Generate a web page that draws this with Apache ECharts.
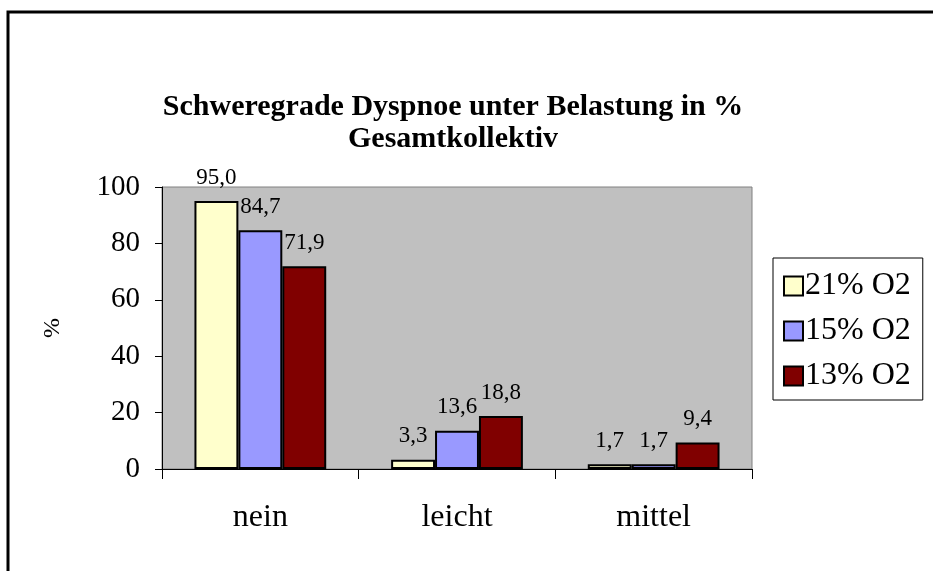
<!DOCTYPE html>
<html lang="de">

<head>
    <meta charset="UTF-8">
    <script src="https://cdn.jsdelivr.net/npm/echarts@6/dist/echarts.min.js"></script>
    <style>
        html, body {
            margin: 0;
            padding: 0;
            background: #fff;
        }

        #chart {
            width: 933px;
            height: 571px;
        }
    </style>
</head>

<body>
    <div id="chart"></div>
    <script>
        var categories = ['nein', 'leicht', 'mittel']
        var seriesNames = ['21% O2', '15% O2', '13% O2']
        var o2at21 = [95.0, 3.3, 1.7]
        var o2at15 = [84.7, 13.6, 1.7]
        var o2at13 = [71.9, 18.8, 9.4]
        var barColors = ['#ffffcc', '#9999ff', '#800000']

        var serif = "'Liberation Serif', 'Times New Roman', serif"
        var chart = echarts.init(document.getElementById('chart'))

        function makeSeries(name, values, color) {
            return {
                name: name,
                type: 'bar',
                data: values,
                barGap: '0%',
                barCategoryGap: '33%',
                itemStyle: {
                    color: color,
                    borderColor: '#000',
                    borderWidth: 2
                },
                label: {
                    show: true,
                    position: 'top',
                    distance: 12,
                    color: '#000',
                    fontFamily: serif,
                    fontSize: 23,
                    formatter: function (p) {
                        return p.value.toFixed(1).replace('.', ',')
                    }
                }
            }
        }

        chart.setOption({
            animation: false,
            backgroundColor: '#fff',
            graphic: [
                {
                    type: 'rect',
                    shape: { x: 8, y: 12, width: 1200, height: 1000 },
                    style: { fill: 'none', stroke: '#000', lineWidth: 3 },
                    silent: true
                },
                {
                    type: 'text',
                    x: 453,
                    y: 123,
                    style: {
                        text: 'Schweregrade Dyspnoe unter Belastung in %\nGesamtkollektiv',
                        textAlign: 'center',
                        textVerticalAlign: 'middle',
                        font: 'bold 30px ' + serif,
                        lineHeight: 32,
                        fill: '#000'
                    }
                }
            ],
            grid: {
                left: 162,
                top: 187,
                right: 181,
                bottom: 102,
                show: true,
                backgroundColor: '#c0c0c0',
                borderColor: '#808080',
                borderWidth: 1,
                containLabel: false
            },
            legend: {
                orient: 'vertical',
                left: 773,
                top: 258,
                data: seriesNames,
                backgroundColor: '#fff',
                borderColor: '#000',
                borderWidth: 1,
                padding: [12, 12, 8, 10],
                itemGap: 13,
                itemWidth: 19,
                itemHeight: 19,
                icon: 'rect',
                itemStyle: { borderColor: '#000', borderWidth: 2 },
                textStyle: {
                    color: '#000',
                    fontFamily: serif,
                    fontSize: 32,
                    lineHeight: 32,
                    padding: [0, 0, 0, -3]
                }
            },
            xAxis: {
                type: 'category',
                data: categories,
                axisLine: { lineStyle: { color: '#000', width: 1 } },
                axisTick: { show: true, length: 10, inside: false, lineStyle: { color: '#000' } },
                axisLabel: {
                    color: '#000',
                    fontFamily: serif,
                    fontSize: 32,
                    margin: 33
                },
                splitLine: { show: false }
            },
            yAxis: {
                type: 'value',
                min: 0,
                max: 100,
                interval: 20,
                name: '%',
                nameLocation: 'middle',
                nameGap: 97,
                nameTextStyle: { color: '#000', fontFamily: serif, fontSize: 24 },
                axisLine: { show: true, lineStyle: { color: '#000', width: 1 } },
                axisTick: { show: true, length: 7, lineStyle: { color: '#000' } },
                axisLabel: {
                    color: '#000',
                    fontFamily: serif,
                    fontSize: 29,
                    margin: 22
                },
                splitLine: { show: false }
            },
            series: [
                makeSeries(seriesNames[0], o2at21, barColors[0]),
                makeSeries(seriesNames[1], o2at15, barColors[1]),
                makeSeries(seriesNames[2], o2at13, barColors[2])
            ]
        })
    </script>
</body>

</html>
